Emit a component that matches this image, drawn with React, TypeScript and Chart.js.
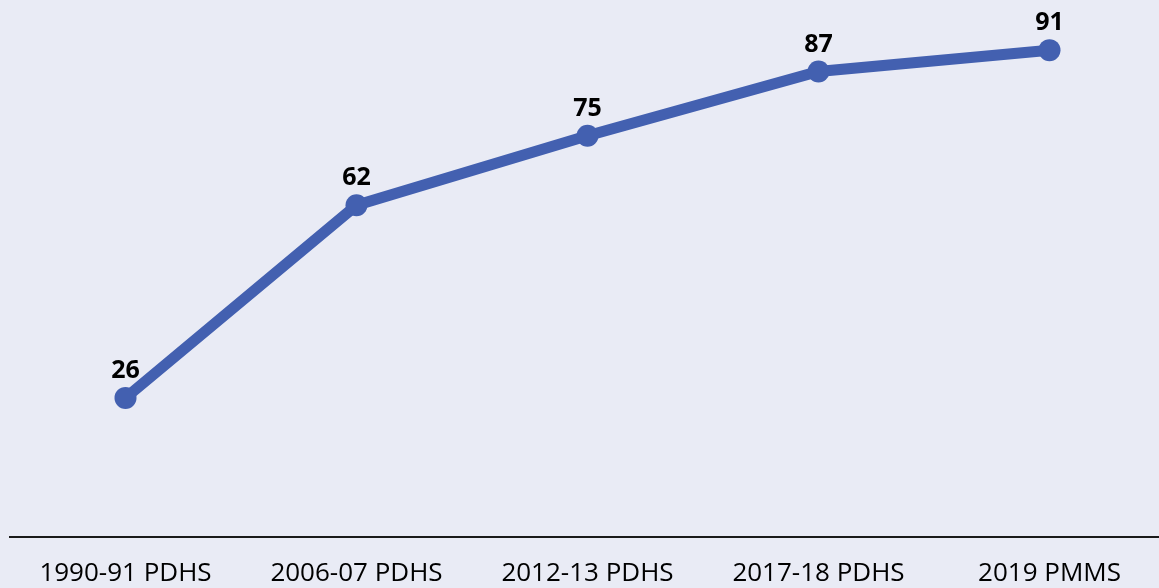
import React, { useEffect, useRef } from "react";
import { Chart, registerables } from "chart.js";

Chart.register(...registerables);

const categories: string[] = ["1990-91 PDHS", "2006-07 PDHS", "2012-13 PDHS", "2017-18 PDHS", "2019 PMMS"];
const values: number[] = [26, 62, 75, 87, 91];

const BG = "#E9EBF5";
const LINE = "#4360B0";

const labelPlugin = {
  id: "pointLabels",
  afterDatasetsDraw(chart: any) {
    const ctx = chart.ctx;
    const meta = chart.getDatasetMeta(0);
    ctx.save();
    ctx.font = "bold 25px 'Open Sans'";
    ctx.fillStyle = "#000";
    ctx.textAlign = "center";
    ctx.textBaseline = "alphabetic";
    meta.data.forEach((pt: any, i: number) => {
      ctx.fillText(String(values[i]), pt.x, pt.y - 20);
    });
    ctx.restore();
  },
};

export default function App() {
  const ref = useRef<HTMLCanvasElement | null>(null);
  useEffect(() => {
    if (!ref.current) return;
    const chart = new Chart(ref.current, {
      type: "line",
      data: {
        labels: categories,
        datasets: [
          {
            data: values,
            borderColor: LINE,
            backgroundColor: LINE,
            borderWidth: 11,
            pointRadius: 11,
            pointHoverRadius: 11,
            pointBackgroundColor: LINE,
            pointBorderWidth: 0,
            tension: 0,
            clip: false,
          },
        ],
      },
      options: {
        animation: false,
        responsive: false,
        maintainAspectRatio: false,
        layout: { autoPadding: false, padding: { left: 10, right: 0, top: 2, bottom: 0 } },
        plugins: { legend: { display: false }, tooltip: { enabled: false } },
        scales: {
          x: {
            offset: true,
            grid: { display: false, drawTicks: false },
            border: { display: true, color: "#1a1a1a", width: 2 },
            ticks: {
              color: "#000",
              font: { family: "'Open Sans'", size: 26 },
              padding: 21,
              maxRotation: 0,
              autoSkip: false,
            },
            afterFit(scale: any) {
              scale.height = 51;
            },
          },
          y: {
            display: false,
            min: 0,
            max: 100,
          },
        },
      },
      plugins: [labelPlugin],
    });
    return () => chart.destroy();
  }, []);
  return (
    <div
      style={{
        position: "absolute",
        left: 0,
        top: 0,
        width: 1159,
        height: 588,
        overflow: "hidden",
        background: BG,
      }}
    >
      <canvas ref={ref} width={1165} height={588} style={{ display: "block", width: 1165, height: 588 }} />
    </div>
  );
}
